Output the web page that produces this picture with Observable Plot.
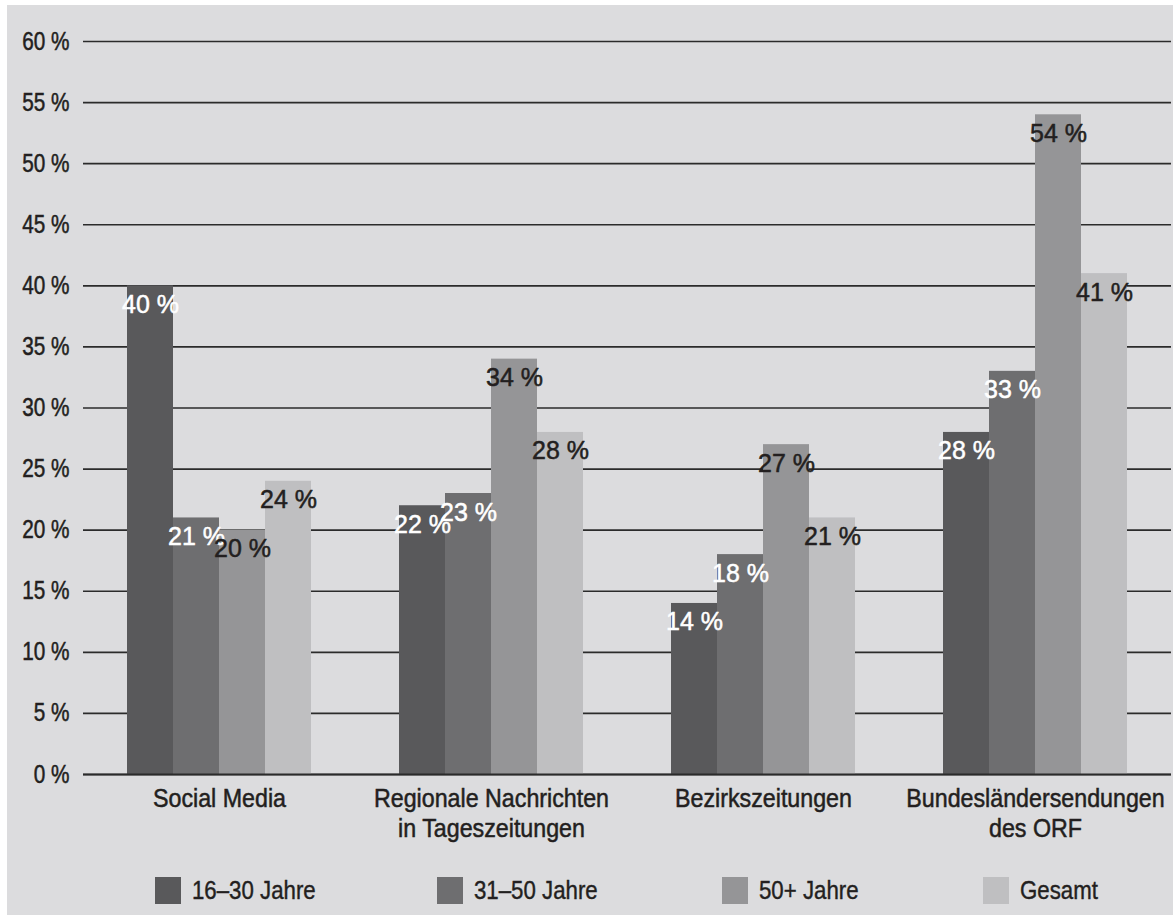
<!DOCTYPE html>
<html>
<head>
<meta charset="utf-8">
<script src="https://cdn.jsdelivr.net/npm/d3@7"></script>
<script src="https://cdn.jsdelivr.net/npm/@observablehq/plot@0.6"></script>
<style>
  html, body { margin: 0; padding: 0; background: #ffffff; }
  #bg { position: absolute; left: 7px; top: 5px; width: 1166px; height: 910px; background: #dcdcde; }
  #chart { position: absolute; left: 0; top: 0; }
  #legend { position: absolute; left: 0; top: 877px; width: 1173px; height: 27px;
            font-family: "Liberation Sans", Arial, sans-serif;
            font-size: 25px; color: #231f20; }
  .item { position: absolute; top: 0; height: 27px; display: flex; align-items: center; white-space: nowrap; }
  .sw { width: 26px; height: 27px; margin-right: 11px; flex: none; }
  .lab { display: inline-block; transform: scaleX(0.89); transform-origin: 0 50%;
         -webkit-text-stroke: 0.4px #231f20; }
</style>
</head>
<body>
<div id="bg"></div>
<div id="chart"></div>
<div id="legend"></div>
<script>
// ---- data ----
const categories = [
  "Social Media",
  "Regionale Nachrichten\nin Tageszeitungen",
  "Bezirkszeitungen",
  "Bundesländersendungen\ndes ORF"
];
const series = ["16–30 Jahre", "31–50 Jahre", "50+ Jahre", "Gesamt"];
const values1630 = [40, 22, 14, 28];
const values3150 = [21, 23, 18, 33];
const values50plus = [20, 34, 27, 54];
const valuesGesamt = [24, 28, 21, 41];
const yTicks = [0, 5, 10, 15, 20, 25, 30, 35, 40, 45, 50, 55, 60];
const colors = ["#59595b", "#6e6e70", "#959597", "#bfbfc1"];
const lightLabelSeries = ["16–30 Jahre", "31–50 Jahre"];

const seriesValues = [values1630, values3150, values50plus, valuesGesamt];
const data = [];
categories.forEach((c, i) => {
  series.forEach((s, j) => data.push({category: c, series: s, value: seriesValues[j][i]}));
});

const FONT = '"Liberation Sans", Arial, sans-serif';
const INK = "#231f20";

const chart = Plot.plot({
  width: 1173,
  height: 860,
  marginLeft: 82,
  marginRight: 2,
  marginTop: 41,
  marginBottom: 86,
  style: {fontFamily: FONT, fontSize: "25px", color: INK, background: "transparent", overflow: "visible"},
  fx: {domain: categories, padding: 0},
  x: {domain: series, paddingInner: 0, paddingOuter: 0.94, axis: null},
  y: {domain: [0, 60], axis: null},
  color: {domain: series, range: colors},
  marks: [
    Plot.ruleY(yTicks, {stroke: "#2b2b2b", strokeWidth: 1.6}),
    Plot.barY(data, {fx: "category", x: "series", y: "value", fill: "series"}),
    Plot.ruleY([0], {stroke: "#2b2b2b", strokeWidth: 2}),
    Plot.text(data.filter(d => lightLabelSeries.includes(d.series)), {
      fx: "category", x: "series", y: "value", text: d => `${d.value} %`,
      dy: 19, lineAnchor: "middle", fill: "white", stroke: "white", strokeWidth: 0.5,
      fontSize: 25, ariaLabel: "value-label"
    }),
    Plot.text(data.filter(d => !lightLabelSeries.includes(d.series)), {
      fx: "category", x: "series", y: "value", text: d => `${d.value} %`,
      dy: 19, lineAnchor: "middle", fill: INK, stroke: INK, strokeWidth: 0.5,
      fontSize: 25, ariaLabel: "value-label"
    }),
    Plot.axisY({ticks: yTicks, tickFormat: d => `${d} %`, tickSize: 0, tickPadding: 14, fontSize: 25, label: null}),
    Plot.axisFx({anchor: "bottom", tickSize: 0, tickPadding: 11, fontSize: 25, lineHeight: 1.2, label: null})
  ]
});
document.getElementById("chart").appendChild(chart);

// condensed look: horizontally squeeze the text glyphs around their anchor
function squeeze(selector, s, thicken) {
  chart.querySelectorAll(selector).forEach(t => {
    t.setAttribute("transform", `${t.getAttribute("transform") || ""} scale(${s},1)`);
    if (thicken) { t.setAttribute("stroke", "currentColor"); t.setAttribute("stroke-width", thicken); }
  });
}
squeeze('g[aria-label="y-axis tick label"] text', 0.83, 0.5);
squeeze('g[aria-label="value-label"] text', 0.83, 0);
squeeze('g[aria-label="fx-axis tick label"] text', 0.93, 0.5);

// legend (HTML, below the SVG)
const legendLeft = [155, 437, 722, 983];
const legend = document.getElementById("legend");
series.forEach((s, i) => {
  const item = document.createElement("div");
  item.className = "item";
  item.style.left = legendLeft[i] + "px";
  const sw = document.createElement("div");
  sw.className = "sw";
  sw.style.background = colors[i];
  const label = document.createElement("span");
  label.className = "lab";
  label.textContent = s;
  item.appendChild(sw);
  item.appendChild(label);
  legend.appendChild(item);
});
</script>
</body>
</html>
